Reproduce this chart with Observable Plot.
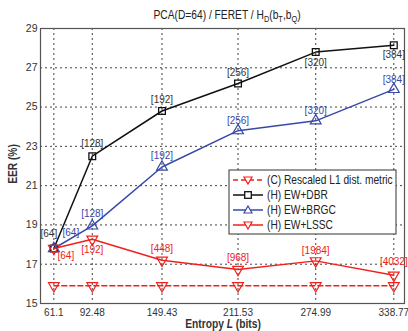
<!DOCTYPE html>
<html><head><meta charset="utf-8">
<script src="https://cdn.jsdelivr.net/npm/d3@7"></script>
<script src="https://cdn.jsdelivr.net/npm/@observablehq/plot@0.6"></script>
<style>
body{margin:0;background:#fff;}
#chart svg{display:block;}
</style>
</head><body><div id="chart"></div>
<script>
const entropy = [61.1, 92.48, 149.43, 211.53, 274.99, 338.77];
const xTickLabels = ["61.1", "92.48", "149.43", "211.53", "274.99", "338.77"];
const yTicks = [15, 17, 19, 21, 23, 25, 27, 29];
const rescaledL1 = [15.9, 15.9, 15.9, 15.9, 15.9, 15.9];
const ewDBR = [17.8, 22.5, 24.8, 26.2, 27.8, 28.15];
const ewBRGC = [17.8, 18.95, 21.95, 23.8, 24.3, 25.9];
const ewLSSC = [17.8, 18.27, 17.2, 16.73, 17.17, 16.44];
const dbrLabels = ["[64]", "[128]", "[192]", "[256]", "[320]", "[384]"];
const brgcLabels = ["[64]", "[128]", "[192]", "[256]", "[320]", "[384]"];
const lsscLabels = ["[64]", "[192]", "[448]", "[968]", "[1984]", "[4032]"];
const seriesNames = ["(C) Rescaled L1 dist. metric", "(H) EW+DBR", "(H) EW+BRGC", "(H) EW+LSSC"];

const RED = "#f0201c", BLUE = "#3848a8", BLACK = "#111";
const NFONT = "'Liberation Sans Narrow','Liberation Sans',Arial,sans-serif";

const rows = (ys, labels) => entropy.map((x, i) => ({x, y: ys[i], label: labels ? labels[i] : null, i}));
const dbr = rows(ewDBR, dbrLabels), brgc = rows(ewBRGC, brgcLabels), lssc = rows(ewLSSC, lsscLabels), l1 = rows(rescaledL1);

// label offsets (layout only)
const dbrDy = [-15, -12, -11, -11, 11, 10], dbrDx = [-5, 0, 0, 0, 0, 0];
const brgcDy = [-16, -12, -11, -10, -10, -10], brgcDx = [17, 0, 0, 0, 0, 0];
const lsscDy = [7, 11, -11, -12, -10, -13], lsscDx = [12, 0, 0, 0, 0, 0];

const labelMarks = (data, fill, dxs, dys) => data.map((d, i) => Plot.text([d], {x: "x", y: "y", text: "label", fill, dx: dxs[i], dy: dys[i], fontSize: 10, fontFamily: NFONT}));

const plot = Plot.plot({
  width: 408, height: 331,
  marginLeft: 40, marginRight: 4, marginTop: 28, marginBottom: 28,
  style: {fontFamily: NFONT, fontSize: "10px", color: "#222", background: "#fff"},
  x: {domain: [50.2, 347.5], ticks: entropy, tickFormat: (d, i) => xTickLabels[i], label: null},
  y: {domain: [15, 29], ticks: yTicks, label: null},
  marks: [
    Plot.gridX(entropy, {stroke: "#222", strokeOpacity: 0.85, strokeDasharray: "2,3"}),
    Plot.gridY(yTicks, {stroke: "#222", strokeOpacity: 0.85, strokeDasharray: "2,3"}),
    Plot.axisX(entropy, {tickSize: 0, tickPadding: 5, tickFormat: (d, i) => xTickLabels[i], fontSize: 10, fill: "#333"}),
    Plot.axisY(yTicks, {tickSize: 0, tickPadding: 3, fontSize: 10.5, fill: "#333"}),
    Plot.frame({stroke: "#555", strokeWidth: 1.2}),
    Plot.line(l1, {x: "x", y: "y", stroke: RED, strokeWidth: 1.5, strokeDasharray: "5,3"}),
    Plot.line(dbr, {x: "x", y: "y", stroke: BLACK, strokeWidth: 1.5}),
    Plot.line(brgc, {x: "x", y: "y", stroke: BLUE, strokeWidth: 1.5}),
    Plot.line(lssc, {x: "x", y: "y", stroke: RED, strokeWidth: 1.5}),
    Plot.dot(l1, {x: "x", y: "y", symbol: "triangle", rotate: 180, r: 4, stroke: RED, strokeWidth: 1.2, fill: "none"}),
    Plot.dot(dbr, {x: "x", y: "y", symbol: "square", r: 3.8, stroke: BLACK, strokeWidth: 1.3, fill: "none"}),
    Plot.dot(brgc, {x: "x", y: "y", symbol: "triangle", r: 4, stroke: BLUE, strokeWidth: 1.2, fill: "none"}),
    Plot.dot(lssc, {x: "x", y: "y", symbol: "triangle", rotate: 180, r: 4, stroke: RED, strokeWidth: 1.2, fill: "none"}),
    ...labelMarks(dbr, "#333", dbrDx, dbrDy),
    ...labelMarks(brgc, BLUE, brgcDx, brgcDy),
    ...labelMarks(lssc, RED, lsscDx, lsscDy)
  ]
});

const svg = d3.select(plot);
// Title with subscripts (horizontally condensed to mimic a narrow face)
const t = svg.append("g").attr("transform", "translate(227,19) scale(0.82,1)")
  .append("text").attr("text-anchor", "middle")
  .attr("font-family", NFONT).attr("font-size", 12.5).attr("fill", "#222");
t.append("tspan").text("PCA(D=64) / FERET / H");
t.append("tspan").attr("font-size", 9).attr("dy", 3).text("D");
t.append("tspan").attr("dy", -3).text("(b");
t.append("tspan").attr("font-size", 9).attr("dy", 3).text("T");
t.append("tspan").attr("dy", -3).text(",b");
t.append("tspan").attr("font-size", 9).attr("dy", 3).text("Q");
t.append("tspan").attr("dy", -3).text(")");

// Axis labels
svg.append("g").attr("transform", "translate(17,164) rotate(-90) scale(0.85,1)")
  .append("text").attr("text-anchor", "middle")
  .attr("font-family", NFONT).attr("font-size", 12).attr("font-weight", "bold").attr("fill", "#333").text("EER (%)");
const xl = svg.append("g").attr("transform", "translate(223,328) scale(0.82,1)")
  .append("text").attr("text-anchor", "middle")
  .attr("font-family", NFONT).attr("font-size", 12.5).attr("font-weight", "bold").attr("fill", "#333");
xl.append("tspan").text("Entropy ");
xl.append("tspan").attr("font-style", "italic").text("L");
xl.append("tspan").text(" (bits)");

// Legend
const lg = svg.append("g").attr("font-family", NFONT).attr("font-size", 12).attr("text-anchor", "start");
lg.append("rect").attr("x", 229).attr("y", 170).attr("width", 167).attr("height", 64)
  .attr("fill", "#ffffff").attr("stroke", "#333333").attr("stroke-width", 1);
const legendStyles = [
  {stroke: RED, dash: "5,3", sym: "down"},
  {stroke: BLACK, dash: null, sym: "square"},
  {stroke: BLUE, dash: null, sym: "up"},
  {stroke: RED, dash: null, sym: "down"}
];
seriesNames.forEach((name, i) => {
  const y = 180 + i * 15, s = legendStyles[i];
  const ln = lg.append("line").attr("x1", 233).attr("x2", 263).attr("y1", y).attr("y2", y)
    .attr("stroke", s.stroke).attr("stroke-width", 1.5);
  if (s.dash) ln.attr("stroke-dasharray", s.dash);
  const cx = 248;
  if (s.sym === "square") lg.append("rect").attr("x", cx - 3.3).attr("y", y - 3.3).attr("width", 6.6).attr("height", 6.6).attr("fill", "#ffffff").attr("stroke", s.stroke).attr("stroke-width", 1.3);
  else if (s.sym === "up") lg.append("path").attr("d", `M${cx},${y-4}L${cx+4},${y+3}L${cx-4},${y+3}Z`).attr("fill", "#ffffff").attr("stroke", s.stroke).attr("stroke-width", 1.2);
  else lg.append("path").attr("d", `M${cx},${y+4}L${cx+4},${y-3}L${cx-4},${y-3}Z`).attr("fill", "#ffffff").attr("stroke", s.stroke).attr("stroke-width", 1.2);
  lg.append("g").attr("transform", `translate(267,${y}) scale(0.85,1)`)
    .append("text").attr("dy", "0.36em").attr("fill", "#222").text(name);
});

document.getElementById("chart").appendChild(plot);
</script>
</body></html>
